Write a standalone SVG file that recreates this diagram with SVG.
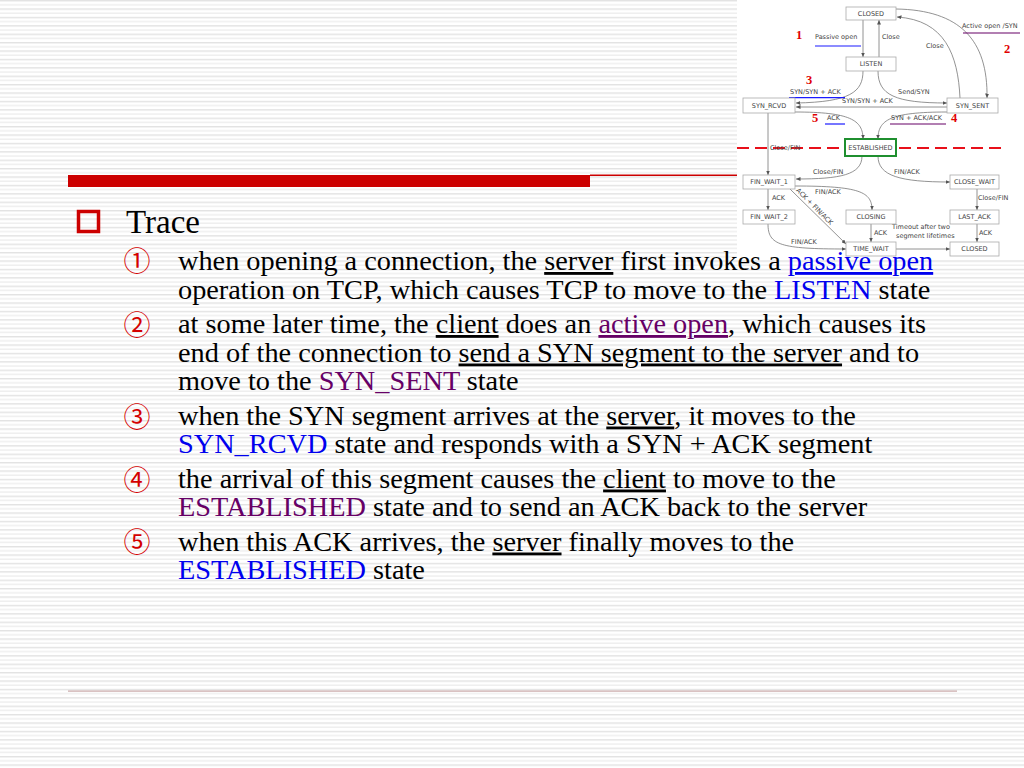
<svg xmlns="http://www.w3.org/2000/svg" width="1024" height="768" viewBox="0 0 1024 768">
<defs>
<pattern id="stripes" patternUnits="userSpaceOnUse" width="16" height="8.4">
<rect x="0" y="0" width="16" height="8.4" fill="#ffffff"/>
<rect x="0" y="0" width="16" height="1.4" fill="#e2e2e2"/>
<rect x="0" y="4.2" width="16" height="1.2" fill="#ebebeb"/>
</pattern>
<marker id="arr" markerUnits="userSpaceOnUse" markerWidth="5" markerHeight="4" refX="4.5" refY="2" orient="auto">
<path d="M0,0 L4.5,2 L0,4 Z" fill="#555"/>
</marker>
<style>
.body{font-family:"Liberation Serif","Times New Roman",serif;font-size:28.3px;fill:#000}
.num{font-family:"Noto Sans CJK JP","DejaVu Sans",sans-serif;font-size:27px;fill:#d40000;text-anchor:middle}
.blue{fill:#0000ee}
.purple{fill:#660066}
.u{text-decoration:underline}
.node rect{fill:#fff;stroke:#aaa;stroke-width:0.8}
.node text,.lbl{font-family:"DejaVu Sans","Liberation Sans",sans-serif;font-size:6.5px;fill:#444}
.node text{text-anchor:middle}
.conn path{fill:none;stroke:#777;stroke-width:0.8;marker-end:url(#arr)}
.rn{font-family:"Liberation Serif",serif;font-weight:bold;font-size:12.5px;fill:#e00000}
</style>
</defs>
<g id="background">
<rect x="0" y="0" width="1024" height="768" fill="url(#stripes)"/>
<rect x="68" y="175" width="522" height="12" fill="#cc0000"/>
<rect x="590" y="174.5" width="147" height="1.5" fill="#cc0000"/>
<rect x="68" y="690.5" width="889" height="1.2" fill="#c9a9a9"/>
<rect x="737" y="0" width="287" height="258" fill="#fff"/>
</g>
<g id="slide-text">
<rect x="78.5" y="211.5" width="20" height="20" fill="none" stroke="#cc0000" stroke-width="3.5"/>
<text x="126" y="233" font-family="Liberation Serif, serif" font-size="33" fill="#000">Trace</text>
<text class="num" x="137" y="271">①</text>
<text class="num" x="137" y="335">②</text>
<text class="num" x="137" y="426.5">③</text>
<text class="num" x="137" y="489.5">④</text>
<text class="num" x="137" y="552">⑤</text>
<text class="body" x="178" y="270">when opening a connection, the <tspan class="u">server</tspan> first invokes a <tspan class="blue u">passive open</tspan></text>
<text class="body" x="178" y="298.5">operation on TCP, which causes TCP to move to the <tspan class="blue">LISTEN</tspan> state</text>
<text class="body" x="178" y="333">at some later time, the <tspan class="u">client</tspan> does an <tspan class="purple u">active open</tspan>, which causes its</text>
<text class="body" x="178" y="361.5">end of the connection to <tspan class="u">send a SYN segment to the server</tspan> and to</text>
<text class="body" x="178" y="390">move to the <tspan class="purple">SYN_SENT</tspan> state</text>
<text class="body" x="178" y="424.5">when the SYN segment arrives at the <tspan class="u">server</tspan>, it moves to the</text>
<text class="body" x="178" y="453"><tspan class="blue">SYN_RCVD</tspan> state and responds with a SYN + ACK segment</text>
<text class="body" x="178" y="487.5">the arrival of this segment causes the <tspan class="u">client</tspan> to move to the</text>
<text class="body" x="178" y="516"><tspan class="purple">ESTABLISHED</tspan> state and to send an ACK back to the server</text>
<text class="body" x="178" y="550.5">when this ACK arrives, the <tspan class="u">server</tspan> finally moves to the</text>
<text class="body" x="178" y="579"><tspan class="blue">ESTABLISHED</tspan> state</text>
</g>
<g id="divider">
<line x1="737" y1="148" x2="1003" y2="148" stroke="#e8101a" stroke-width="2" stroke-dasharray="12 6"/>
</g>
<g id="connectors" class="conn">
<path d="M863,20 L863,57"/>
<path d="M879,57 L879,20"/>
<path d="M896,9 C960,10 988,40 987,98"/>
<path d="M960,98 C958,55 945,20 897,17"/>
<path d="M863,71 C863,92 850,102 796,103"/>
<path d="M878,71 C878,95 895,103 947,103"/>
<path d="M947,107 L796,107"/>
<path d="M795,112 C850,112 863,120 863,139"/>
<path d="M947,112 C890,112 878,120 878,139"/>
<path d="M768,113 L768,175"/>
<path d="M862,156 C862,175 840,179 796,179"/>
<path d="M878,156 C878,176 900,182 950,182"/>
<path d="M768,189 L768,210"/>
<path d="M795,186 C860,186 872,192 872,210"/>
<path d="M790,189 L846,244"/>
<path d="M768,224 C768,245 780,249 846,249"/>
<path d="M871,224 L871,242"/>
<path d="M896,249 L950,249"/>
<path d="M977,189 L977,210"/>
<path d="M977,224 L977,242"/>
</g>
<g id="labels">
<text class="lbl" x="815" y="39">Passive open</text>
<line x1="815" y1="46" x2="861" y2="46" stroke="#1a1aff" stroke-width="1.2"/>
<text class="lbl" x="882" y="39">Close</text>
<text class="lbl" x="926" y="48">Close</text>
<text class="lbl" x="962" y="28">Active open /SYN</text>
<line x1="963" y1="33" x2="1020" y2="33" stroke="#660066" stroke-width="1.2"/>
<text class="lbl" x="790" y="94">SYN/SYN + ACK</text>
<line x1="789" y1="97.7" x2="845" y2="97.7" stroke="#1a1aff" stroke-width="1.2"/>
<text class="lbl" x="898" y="94">Send/SYN</text>
<text class="lbl" x="842" y="103">SYN/SYN + ACK</text>
<text class="lbl" x="827" y="120">ACK</text>
<line x1="825" y1="124" x2="845" y2="124" stroke="#1a1aff" stroke-width="1.2"/>
<text class="lbl" x="891" y="120">SYN + ACK/ACK</text>
<line x1="890" y1="124" x2="946" y2="124" stroke="#660066" stroke-width="1.2"/>
<text class="lbl" x="770" y="150">Close/FIN</text>
<text class="lbl" x="813" y="174">Close/FIN</text>
<text class="lbl" x="894" y="174">FIN/ACK</text>
<text class="lbl" x="815" y="194">FIN/ACK</text>
<text class="lbl" x="772" y="200">ACK</text>
<text class="lbl" text-anchor="middle" transform="translate(813,208) rotate(45)">ACK + FIN/ACK</text>
<text class="lbl" x="978" y="200">Close/FIN</text>
<text class="lbl" x="874" y="235">ACK</text>
<text class="lbl" x="892" y="229">Timeout after two</text>
<text class="lbl" x="896" y="238">segment lifetimes</text>
<text class="lbl" x="979" y="235">ACK</text>
<text class="lbl" x="791" y="244">FIN/ACK</text>
<text class="rn" x="796" y="39">1</text>
<text class="rn" x="1004" y="53">2</text>
<text class="rn" x="806" y="84">3</text>
<text class="rn" x="812" y="122">5</text>
<text class="rn" x="951" y="122">4</text>
</g>
<g id="node-closed-top" class="node"><rect x="846" y="7" width="50" height="13"/><text x="871" y="15.8">CLOSED</text></g>
<g id="node-listen" class="node"><rect x="846" y="57" width="50" height="14"/><text x="871" y="66.3">LISTEN</text></g>
<g id="node-syn-rcvd" class="node"><rect x="743" y="98" width="52" height="15"/><text x="769" y="107.8">SYN_RCVD</text></g>
<g id="node-syn-sent" class="node"><rect x="947" y="98" width="51" height="15"/><text x="972.5" y="107.8">SYN_SENT</text></g>
<g id="node-established" class="node"><rect x="845" y="139" width="51" height="17" style="stroke:#1f8f2f;stroke-width:2"/><text x="870.5" y="149.8">ESTABLISHED</text></g>
<g id="node-fin-wait-1" class="node"><rect x="743" y="175" width="52" height="14"/><text x="769" y="184.3">FIN_WAIT_1</text></g>
<g id="node-close-wait" class="node"><rect x="950" y="175" width="49" height="14"/><text x="974.5" y="184.3">CLOSE_WAIT</text></g>
<g id="node-fin-wait-2" class="node"><rect x="743" y="210" width="52" height="14"/><text x="769" y="219.3">FIN_WAIT_2</text></g>
<g id="node-closing" class="node"><rect x="846" y="210" width="50" height="14"/><text x="871" y="219.3">CLOSING</text></g>
<g id="node-last-ack" class="node"><rect x="950" y="210" width="49" height="14"/><text x="974.5" y="219.3">LAST_ACK</text></g>
<g id="node-time-wait" class="node"><rect x="846" y="242" width="50" height="14"/><text x="871" y="251.3">TIME_WAIT</text></g>
<g id="node-closed-bottom" class="node"><rect x="950" y="242" width="49" height="14"/><text x="974.5" y="251.3">CLOSED</text></g>
</svg>
